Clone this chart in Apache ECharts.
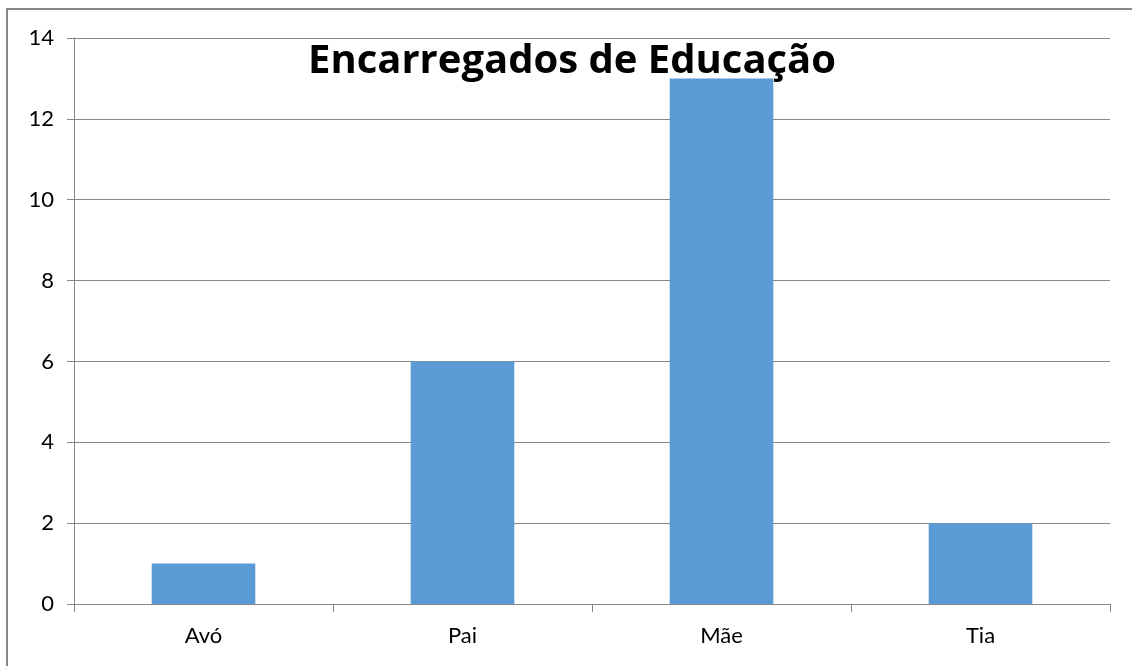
<!DOCTYPE html>
<html>
<head>
<meta charset="utf-8">
<script src="https://cdn.jsdelivr.net/npm/echarts@6/dist/echarts.min.js"></script>
<style>
  html, body { margin: 0; padding: 0; background: #fff; overflow: hidden; width: 1132px; height: 666px; }
  #frame {
    position: absolute; left: 6px; top: 8px; width: 1200px; height: 700px;
    border-left: 2px solid #878787; border-top: 2px solid #878787;
  }
  #chart { position: absolute; left: 0; top: 0; width: 1132px; height: 666px; }
</style>
</head>
<body>
<div id="frame"></div>
<div id="chart"></div>
<script>
var categories = ['Avó', 'Pai', 'Mãe', 'Tia'];
var values = [1, 6, 13, 2];
var yTicks = [0, 2, 4, 6, 8, 10, 12, 14];

var chart = echarts.init(document.getElementById('chart'));
chart.setOption({
  animation: false,
  title: {
    text: 'Encarregados de Educação',
    left: 303,
    top: 37,
    textStyle: { fontFamily: 'Open Sans', fontWeight: 'bold', fontSize: 40, color: '#000' }
  },
  grid: { left: 74, top: 38, right: 22, bottom: 62 },
  xAxis: {
    type: 'category',
    data: categories,
    axisLine: { lineStyle: { color: '#878787', width: 1 } },
    axisTick: { show: true, length: 8, lineStyle: { color: '#878787' } },
    axisLabel: { fontFamily: 'Lato', fontSize: 22, color: '#000', margin: 21 }
  },
  yAxis: {
    type: 'value',
    min: yTicks[0],
    max: yTicks[yTicks.length - 1],
    interval: 2,
    axisLine: { show: true, lineStyle: { color: '#878787', width: 1 } },
    axisTick: { show: true, length: 7, lineStyle: { color: '#878787' } },
    axisLabel: { fontFamily: 'Lato', fontSize: 22, color: '#000', margin: 20 },
    splitLine: { lineStyle: { color: '#878787', width: 1 } }
  },
  series: [{
    type: 'bar',
    data: values,
    barWidth: '40%',
    itemStyle: { color: '#5B9BD5' }
  }]
});
</script>
</body>
</html>
